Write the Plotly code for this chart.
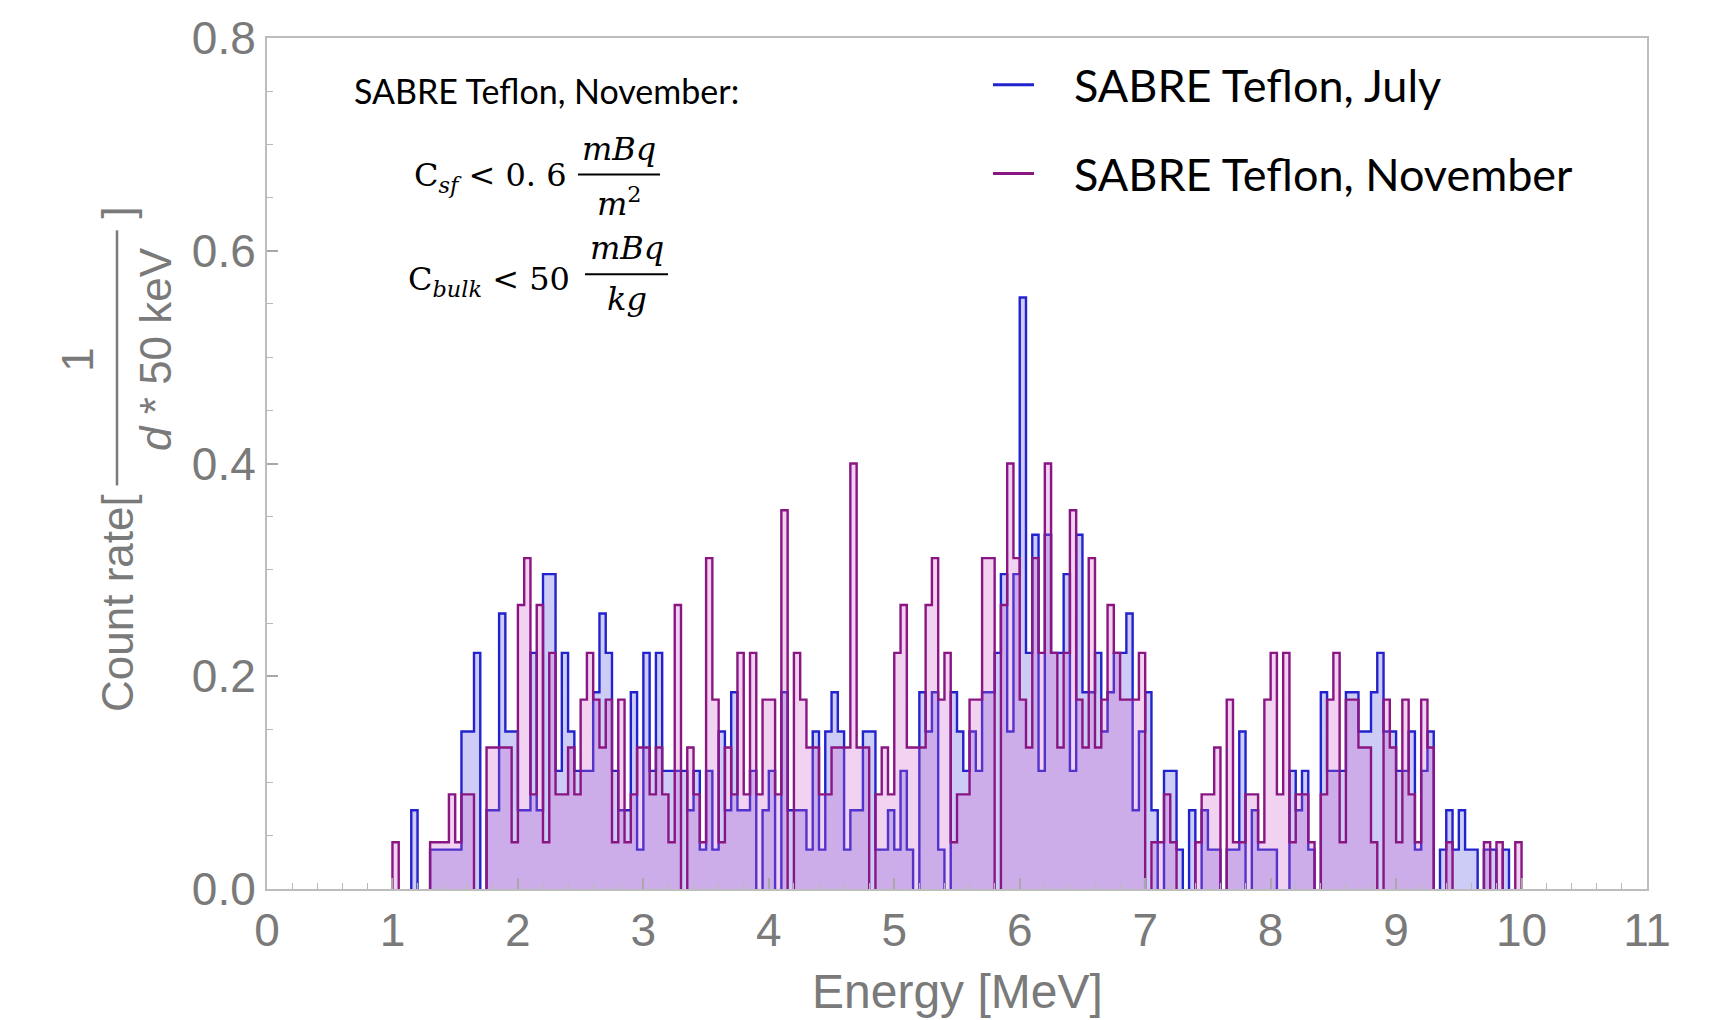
import plotly.graph_objects as go

# ---- data: count rate per 50 keV bin, 1.00 .. 10.00 MeV ----
BIN_START = 1.0
BIN_WIDTH = 0.05

july_rate = [
    # 1.00 - 1.95 MeV
    0, 0, 0, .074, 0, 0, .037, .037, .037, .037, .037, .148, .148, .222, 0, .074, .074, .259, .148, .148,
    # 2.00 - 2.95 MeV
    .074, .074, .222, .074, .296, .296, .111, .222, .148, .111, .111, .111, .185, .259, .222, .111, .074, .074, .185, .037,
    # 3.00 - 3.95 MeV
    .222, .111, .222, .111, .111, .111, .111, .074, .111, .037, .111, .037, .148, .074, .185, .074, .074, .111, 0, .074,
    # 4.00 - 4.95 MeV
    .111, 0, .185, .074, .074, .074, .037, .148, .037, .148, .185, .148, .037, .074, .074, .148, .148, .037, .037, .074,
    # 5.00 - 5.95 MeV
    .037, .111, .037, 0, .185, .148, .185, .037, 0, .185, .148, .111, .148, .111, .185, .185, .222, .296, .148, .296,
    # 6.00 - 6.95 MeV
    .556, .222, .333, .111, .333, .222, .222, .296, .111, .333, .185, .185, .222, .148, .185, .222, .222, .259, .074, .148,
    # 7.00 - 7.95 MeV
    .185, .074, 0, .111, .111, .037, 0, .074, 0, .074, .037, .037, 0, .037, .037, .148, 0, .074, .037, .037,
    # 8.00 - 8.95 MeV
    .037, 0, 0, .111, .074, .111, .037, 0, .185, .111, .111, .111, .185, .185, .148, .148, .185, .222, .148, .148,
    # 9.00 - 9.95 MeV
    .111, .111, .148, .037, .111, .148, 0, .037, .074, .037, .074, .037, .037, 0, .037, .037, 0, .037, 0, 0,
]

november_rate = [
    # 1.00 - 1.95 MeV
    .044, 0, 0, 0, 0, 0, .044, .044, .044, .089, .044, .089, .089, 0, 0, .133, .133, .133, .133, .044,
    # 2.00 - 2.95 MeV
    .267, .311, .089, .267, .044, .222, .089, .089, .133, .089, .178, .222, .178, .133, .178, .044, .178, .044, .089, .133,
    # 3.00 - 3.95 MeV
    .133, .089, .133, .089, .044, .267, 0, .133, .089, .044, .311, .178, .044, .133, .089, .222, .089, .222, .089, .178,
    # 4.00 - 4.95 MeV
    .178, .089, .356, 0, .222, .178, .133, .133, .089, .089, .133, .133, .133, .400, .133, .133, 0, .089, .133, .089,
    # 5.00 - 5.95 MeV
    .222, .267, .133, .133, .133, .267, .311, .178, .222, .044, .089, .089, .178, .178, .311, .311, 0, .267, .400, .311,
    # 6.00 - 6.95 MeV
    .178, .133, .311, .222, .400, .222, .133, .222, .356, .178, .133, .311, .133, .178, .267, .222, .178, .178, .178, .222,
    # 7.00 - 7.95 MeV
    0, .044, .044, .089, .044, 0, 0, 0, .044, .089, .089, .133, 0, .178, .044, .044, .089, .089, .044, .178,
    # 8.00 - 8.95 MeV
    .222, .089, .222, .044, .089, .089, .044, 0, .089, .178, .222, .044, .178, .178, .133, .133, .044, 0, .178, .133,
    # 9.00 - 9.95 MeV
    .044, .178, .089, .044, .178, .133, 0, 0, .044, 0, 0, 0, 0, 0, .044, 0, .044, 0, 0, .044,
]

series_names = ["SABRE Teflon, July", "SABRE Teflon, November"]
x_tick_values = list(range(0, 12))
y_tick_values = [0.0, 0.2, 0.4, 0.6, 0.8]
y_tick_labels = ["0.0", "0.2", "0.4", "0.6", "0.8"]

# ---- styling ----
JULY_LINE = "rgb(35,35,205)"
JULY_FILL = "rgba(95,95,230,0.32)"
NOV_LINE = "rgb(138,22,132)"
NOV_FILL = "rgba(205,95,200,0.28)"
AXIS_GREY = "#7a7a7a"
FRAME_GREY = "#bdbdbd"

W, H = 1725, 1020
ML, MR, MT, MB = 267, 78, 35, 131
PW, PH = W - ML - MR, H - MT - MB


def px(x):
    """pixel column -> paper x"""
    return (x - ML) / PW


def py(y):
    """pixel row -> paper y"""
    return (H - MB - y) / PH


def step_outline(values):
    """Histogram outline, one closed step path per run of non-empty bins."""
    edges = [round(BIN_START + BIN_WIDTH * k, 4) for k in range(len(values) + 1)]
    xs, ys = [], []
    i, n = 0, len(values)
    while i < n:
        if values[i] <= 0:
            i += 1
            continue
        j = i
        while j < n and values[j] > 0:
            j += 1
        xs.append(edges[i]); ys.append(0)
        for k in range(i, j):
            xs.append(edges[k]); ys.append(values[k])
        xs.append(edges[j]); ys.append(0)
        xs.append(None); ys.append(None)
        i = j
    return xs, ys


fig = go.Figure()
for name, vals, lc, fc in [
    (series_names[0], july_rate, JULY_LINE, JULY_FILL),
    (series_names[1], november_rate, NOV_LINE, NOV_FILL),
]:
    xs, ys = step_outline(vals)
    fig.add_trace(go.Scatter(
        x=xs, y=ys, name=name, mode="lines",
        line=dict(color=lc, width=2.4, shape="hv"),
        fill="tozeroy", fillcolor=fc, connectgaps=False,
        showlegend=False, hoverinfo="skip",
    ))

tick_font = dict(family="Liberation Sans, Arial, sans-serif", size=46, color=AXIS_GREY)

fig.update_layout(
    width=W, height=H,
    margin=dict(l=ML, r=MR, t=MT, b=MB),
    paper_bgcolor="white", plot_bgcolor="white",
    xaxis=dict(
        range=[0, 11], tickvals=x_tick_values, ticks="inside", ticklen=11,
        tickwidth=1.5, tickcolor="#a8a8a8", showline=True, linecolor=FRAME_GREY,
        linewidth=2, mirror=True, showgrid=False, zeroline=False, tickfont=tick_font,
        minor=dict(ticks="inside", ticklen=6, dtick=0.2, tickcolor="#b8b8b8",
                   tickwidth=1.2, showgrid=False),
    ),
    yaxis=dict(
        range=[0, 0.8], tickvals=y_tick_values, ticktext=y_tick_labels,
        ticks="inside", ticklen=11, tickwidth=1.5, tickcolor="#a8a8a8",
        showline=True, linecolor=FRAME_GREY, linewidth=2, mirror=True,
        showgrid=False, zeroline=False, tickfont=tick_font,
        minor=dict(ticks="inside", ticklen=6, dtick=0.05, tickcolor="#b8b8b8",
                   tickwidth=1.2, showgrid=False),
    ),
)

annotations = []
shapes = []

# x-axis title
annotations.append(dict(
    text="Energy [MeV]", xref="paper", yref="paper", x=px(957), y=py(992),
    showarrow=False, xanchor="center", yanchor="middle",
    font=dict(family="Liberation Sans, Arial, sans-serif", size=48, color=AXIS_GREY),
))

# y-axis title: Count rate[ 1 / (d * 50 keV) ]
ytitle_font = dict(family="Liberation Sans Narrow, Arial Narrow, Liberation Sans, sans-serif",
                   size=44, color=AXIS_GREY)
annotations.append(dict(
    text="Count rate[", xref="paper", yref="paper", x=px(117), y=py(602),
    textangle=-90, showarrow=False, xanchor="center", yanchor="middle", font=ytitle_font,
))
annotations.append(dict(
    text="1", xref="paper", yref="paper", x=px(78), y=py(358),
    textangle=-90, showarrow=False, xanchor="center", yanchor="middle", font=ytitle_font,
))
annotations.append(dict(
    text="<i>d</i> * 50 keV", xref="paper", yref="paper", x=px(156), y=py(347),
    textangle=-90, showarrow=False, xanchor="center", yanchor="middle", font=ytitle_font,
))
annotations.append(dict(
    text="]", xref="paper", yref="paper", x=px(117), y=py(210),
    textangle=-90, showarrow=False, xanchor="center", yanchor="middle", font=ytitle_font,
))
shapes.append(dict(type="line", xref="paper", yref="paper",
                   x0=px(117), x1=px(117), y0=py(484), y1=py(228),
                   line=dict(color=AXIS_GREY, width=2.5)))

# legend (line sample + label)
legend_font = dict(family="Lato, Open Sans, sans-serif", size=45, color="black")
for name, color, row_y in [(series_names[0], JULY_LINE, 82), (series_names[1], NOV_LINE, 171)]:
    shapes.append(dict(type="line", xref="paper", yref="paper",
                       x0=px(993), x1=px(1034), y0=py(row_y), y1=py(row_y),
                       line=dict(color=color, width=3)))
    annotations.append(dict(
        text=name, xref="paper", yref="paper", x=px(1072), y=py(row_y),
        showarrow=False, xanchor="left", yanchor="middle", font=legend_font,
    ))

# November limits box
note_font = dict(family="Lato, Open Sans, sans-serif", size=34, color="black")
annotations.append(dict(
    text="SABRE Teflon, November:", xref="paper", yref="paper", x=px(352), y=py(88),
    showarrow=False, xanchor="left", yanchor="middle", font=note_font,
))

math_font = dict(family="DejaVu Serif, Liberation Serif, serif", size=32, color="black")


def fraction(num, den, x_left, x_right, y_bar):
    xc = (x_left + x_right) / 2
    annotations.append(dict(text=num, xref="paper", yref="paper", x=px(xc), y=py(y_bar - 5),
                            showarrow=False, xanchor="center", yanchor="bottom", font=math_font))
    annotations.append(dict(text=den, xref="paper", yref="paper", x=px(xc), y=py(y_bar + 4),
                            showarrow=False, xanchor="center", yanchor="top", font=math_font))
    shapes.append(dict(type="line", xref="paper", yref="paper",
                       x0=px(x_left), x1=px(x_right), y0=py(y_bar), y1=py(y_bar),
                       line=dict(color="black", width=2)))


annotations.append(dict(
    text="C<sub><i>sf</i></sub> &lt; 0. 6", xref="paper", yref="paper", x=px(568), y=py(174),
    showarrow=False, xanchor="right", yanchor="middle", font=math_font,
))
fraction("<i>mBq</i>", "<i>m</i><sup>2</sup>", 578, 660, 172)

annotations.append(dict(
    text="C<sub><i>bulk</i></sub> &lt; 50", xref="paper", yref="paper", x=px(572), y=py(279),
    showarrow=False, xanchor="right", yanchor="middle", font=math_font,
))
fraction("<i>mBq</i>", "<i>kg</i>", 585, 668, 272)

fig.update_layout(annotations=annotations, shapes=shapes)

fig.write_html("out.html")
